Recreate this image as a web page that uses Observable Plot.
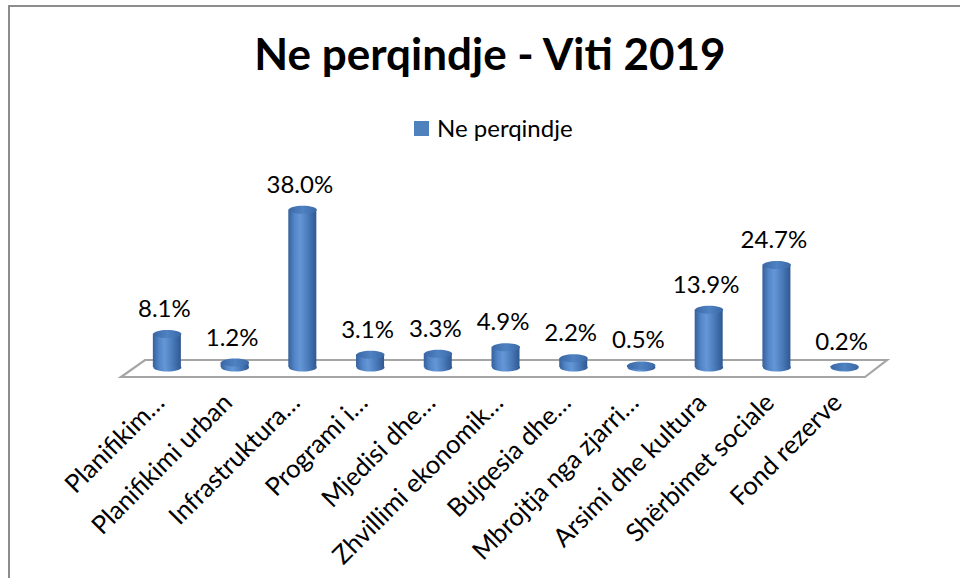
<!DOCTYPE html>
<html>
<head>
<meta charset="utf-8">
<script src="https://cdn.jsdelivr.net/npm/d3@7"></script>
<script src="https://cdn.jsdelivr.net/npm/@observablehq/plot@0.6"></script>
<style>
html,body{margin:0;padding:0;background:#fff;}
#wrap{position:relative;width:960px;height:578px;overflow:hidden;font-family:Lato,"Open Sans",sans-serif;color:#000;}
#frame{position:absolute;left:8px;top:5px;width:1000px;height:700px;border-left:2px solid #8c8c8c;border-top:2px solid #8c8c8c;}
#title{position:absolute;left:0;width:980px;top:31px;text-align:center;font-weight:bold;font-size:44px;line-height:44px;white-space:nowrap;}
#legend-swatch{position:absolute;left:414px;top:121px;width:15px;height:15px;background:#4f81bd;}
#legend-text{position:absolute;left:437px;top:116px;font-size:24px;line-height:24px;white-space:nowrap;}
#chart{position:absolute;left:0;top:150px;}
</style>
</head>
<body>
<div id="wrap">
  <div id="frame"></div>
  <div id="title"></div>
  <div id="legend-swatch"></div>
  <div id="legend-text"></div>
  <div id="chart"></div>
</div>
<script>
// ---- data ----
const titleText = "Ne perqindje - Viti 2019";
const seriesName = "Ne perqindje";
const categories = [
  "Planifikim…",
  "Planifikimi urban",
  "Infrastruktura…",
  "Programi i…",
  "Mjedisi dhe…",
  "Zhvillimi ekonomik…",
  "Bujqesia dhe…",
  "Mbrojtja nga zjarri…",
  "Arsimi dhe kultura",
  "Shërbimet sociale",
  "Fond rezerve"
];
const shares = [8.1, 1.2, 38.0, 3.1, 3.3, 4.9, 2.2, 0.5, 13.9, 24.7, 0.2];

const rows = categories.map((category, i) => ({category, value: shares[i]}));

document.getElementById("title").textContent = titleText;
document.getElementById("legend-text").textContent = seriesName;

// ellipse symbol for cylinder caps
const ellipseSymbol = (ratio) => ({
  draw(ctx, size) {
    const rx = Math.sqrt(size / Math.PI), ry = rx * ratio, k = 0.5523;
    ctx.moveTo(rx, 0);
    ctx.bezierCurveTo(rx, ry * k, rx * k, ry, 0, ry);
    ctx.bezierCurveTo(-rx * k, ry, -rx, ry * k, -rx, 0);
    ctx.bezierCurveTo(-rx, -ry * k, -rx * k, -ry, 0, -ry);
    ctx.bezierCurveTo(rx * k, -ry, rx, -ry * k, rx, 0);
    ctx.closePath();
  }
});

// 3D floor drawn from the plot's frame and y scale
function floorMark(index, scales, values, dims) {
  const ns = "http://www.w3.org/2000/svg";
  const xl = dims.marginLeft, xr = dims.width - dims.marginRight, y0 = scales.y(0);
  const p = document.createElementNS(ns, "path");
  const pts = [[xl + 12, y0 - 7], [xr + 9, y0 - 7], [xr - 13, y0 + 10], [xl - 12, y0 + 10]];
  p.setAttribute("d", "M" + pts.map(d => d.join(",")).join("L") + "Z");
  p.setAttribute("fill", "#ffffff");
  p.setAttribute("stroke", "#a5a5a5");
  p.setAttribute("stroke-width", "2.2");
  p.setAttribute("stroke-linejoin", "miter");
  return p;
}

const chart = Plot.plot({
  width: 960,
  height: 428,
  marginLeft: 133,
  marginRight: 82,
  marginTop: 51,
  marginBottom: 211,
  style: {fontFamily: "Lato, 'Open Sans', sans-serif", background: "transparent", overflow: "visible", color: "#000"},
  x: {domain: categories, padding: 0, round: false},
  y: {domain: [0, 40], axis: null},
  marks: [
    floorMark,
    Plot.dot(rows, {x: "category", y: 0, r: 14, symbol: ellipseSymbol(4 / 14), fill: "url(#cylBody)", stroke: "none"}),
    Plot.barY(rows, {x: "category", y: "value", fill: "url(#cylBody)", insetLeft: 19.85, insetRight: 19.85}),
    Plot.dot(rows, {x: "category", y: "value", r: 14, symbol: ellipseSymbol(4 / 14), fill: "url(#cylTop)", stroke: "none"}),
    Plot.text(rows, {x: "category", y: "value", text: d => d.value.toFixed(1) + "%", lineAnchor: "bottom", dy: -17, dx: -3, fontSize: 24, fill: "#000"}),
    Plot.axisX({tickRotate: -45, tickSize: 0, tickPadding: 31, dx: -7, fontSize: 25.5, fill: "#000", label: null})
  ]
});

// gradients for the cylinder shading
const svgSel = d3.select(chart);
const defs = svgSel.insert("defs", ":first-child");
const bodyGrad = defs.append("linearGradient").attr("id", "cylBody").attr("x1", 0).attr("x2", 1).attr("y1", 0).attr("y2", 0);
[["0%", "#36609a"], ["22%", "#5286c8"], ["42%", "#6597d6"], ["70%", "#4a7bbb"], ["100%", "#2f5890"]]
  .forEach(([o, c]) => bodyGrad.append("stop").attr("offset", o).attr("stop-color", c));
const topGrad = defs.append("linearGradient").attr("id", "cylTop").attr("x1", 0).attr("x2", 1).attr("y1", 0).attr("y2", 0);
[["0%", "#3b68a6"], ["50%", "#4f82c2"], ["100%", "#3a68a5"]]
  .forEach(([o, c]) => topGrad.append("stop").attr("offset", o).attr("stop-color", c));

document.getElementById("chart").appendChild(chart);
</script>
</body>
</html>
